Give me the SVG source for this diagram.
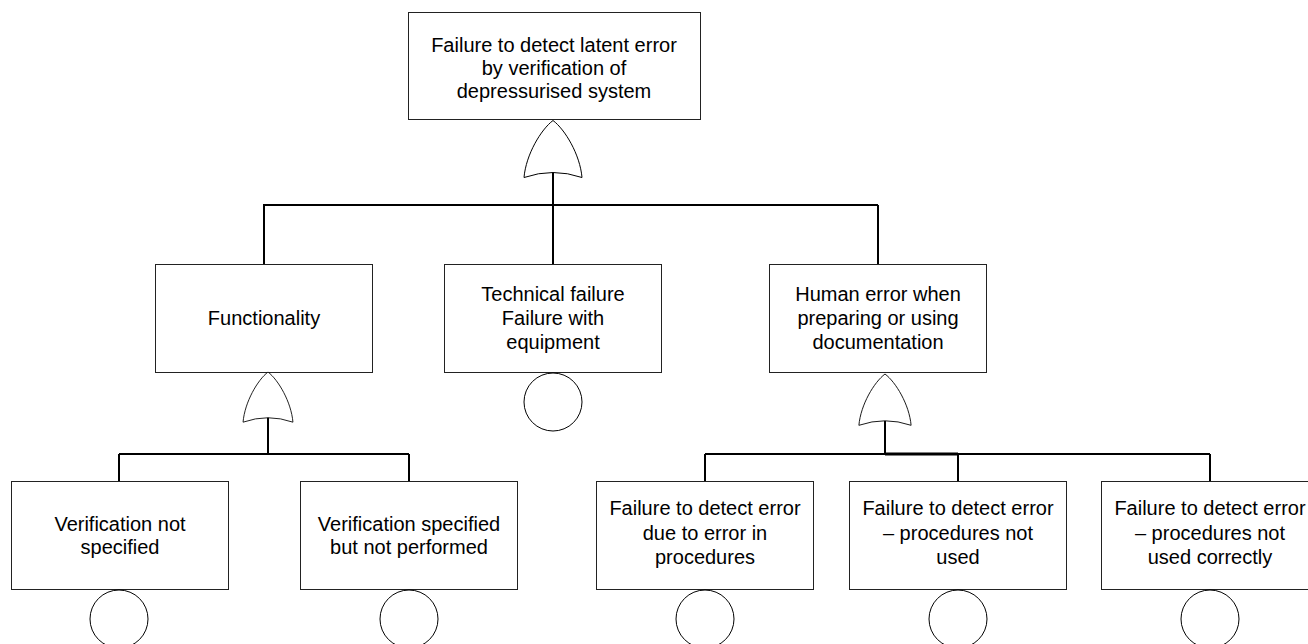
<svg xmlns="http://www.w3.org/2000/svg" width="1308" height="644" viewBox="0 0 1308 644">
  <style>
    .box { fill: #fff; stroke: #222; stroke-width: 1; }
    .gate { fill: #fff; stroke: #000; stroke-width: 1; }
    .basic { fill: #fff; stroke: #000; stroke-width: 1; }
    .wire { fill: none; stroke: #000; stroke-width: 2; }
    .wire-bold { fill: none; stroke: #000; stroke-width: 3; }
    text { font-family: "Liberation Sans", Arial, sans-serif; font-size: 20px; fill: #000; text-anchor: middle; }
  </style>
  <defs>
    <!-- OR gate, apex at origin, opening downward; width 58, height 57 -->
    <path id="orGate" d="M0,0 C-12,9 -27,34 -29,57 Q0,47 29,57 C27,34 12,9 0,0 Z"/>
  </defs>
  <rect width="1308" height="644" fill="#fff"/>

  <!-- connectors -->
  <g id="connectors">
    <path class="wire" d="M553,173 V205 M263,205 H878 M264,205 V265 M553,205 V265 M878,205 V265"/>
    <path class="wire" d="M268,417 V454 M119,454 H409 M119,454 V481 M409,454 V481"/>
    <path class="wire" d="M885,421 V454 M705,454 H1210 M705,454 V481 M958,454 V481 M1210,454 V481"/>
    <path class="wire-bold" d="M885,454 H958"/>
  </g>

  <!-- top event -->
  <g id="top-event">
    <rect class="box" x="408.5" y="12.5" width="292" height="107"/>
    <text x="554" y="52">Failure to detect latent error</text>
    <text x="554" y="75">by verification of</text>
    <text x="554" y="98">depressurised system</text>
    <use href="#orGate" class="gate" transform="translate(553,120.5)"/>
  </g>

  <!-- intermediate events -->
  <g id="functionality">
    <rect class="box" x="155.5" y="264.5" width="217" height="108"/>
    <text x="264" y="325">Functionality</text>
    <use href="#orGate" class="gate" transform="translate(268,372) scale(0.86,0.88)"/>
  </g>

  <g id="technical-failure">
    <rect class="box" x="444.5" y="264.5" width="217" height="108"/>
    <text x="553" y="301">Technical failure</text>
    <text x="553" y="325">Failure with</text>
    <text x="553" y="349">equipment</text>
    <circle class="basic" cx="553" cy="402" r="29"/>
  </g>

  <g id="human-error">
    <rect class="box" x="769.5" y="264.5" width="217" height="108"/>
    <text x="878" y="301">Human error when</text>
    <text x="878" y="325">preparing or using</text>
    <text x="878" y="349">documentation</text>
    <use href="#orGate" class="gate" transform="translate(885,374) scale(0.9,0.9)"/>
  </g>

  <!-- basic events -->
  <g id="verification-not-specified">
    <rect class="box" x="11.5" y="481.5" width="217" height="108"/>
    <text x="120" y="531">Verification not</text>
    <text x="120" y="554">specified</text>
    <circle class="basic" cx="119" cy="619" r="29"/>
  </g>

  <g id="verification-not-performed">
    <rect class="box" x="300.5" y="481.5" width="217" height="108"/>
    <text x="409" y="531">Verification specified</text>
    <text x="409" y="554">but not performed</text>
    <circle class="basic" cx="409" cy="619" r="29"/>
  </g>

  <g id="error-in-procedures">
    <rect class="box" x="596.5" y="481.5" width="217" height="108"/>
    <text x="705" y="515">Failure to detect error</text>
    <text x="705" y="539.5">due to error in</text>
    <text x="705" y="564">procedures</text>
    <circle class="basic" cx="705" cy="619" r="29"/>
  </g>

  <g id="procedures-not-used">
    <rect class="box" x="849.5" y="481.5" width="217" height="108"/>
    <text x="958" y="515">Failure to detect error</text>
    <text x="958" y="539.5">– procedures not</text>
    <text x="958" y="564">used</text>
    <circle class="basic" cx="958" cy="619" r="29"/>
  </g>

  <g id="procedures-not-used-correctly">
    <rect class="box" x="1101.5" y="481.5" width="217" height="108"/>
    <text x="1210" y="515">Failure to detect error</text>
    <text x="1210" y="539.5">– procedures not</text>
    <text x="1210" y="564">used correctly</text>
    <circle class="basic" cx="1210" cy="619" r="29"/>
  </g>
</svg>
